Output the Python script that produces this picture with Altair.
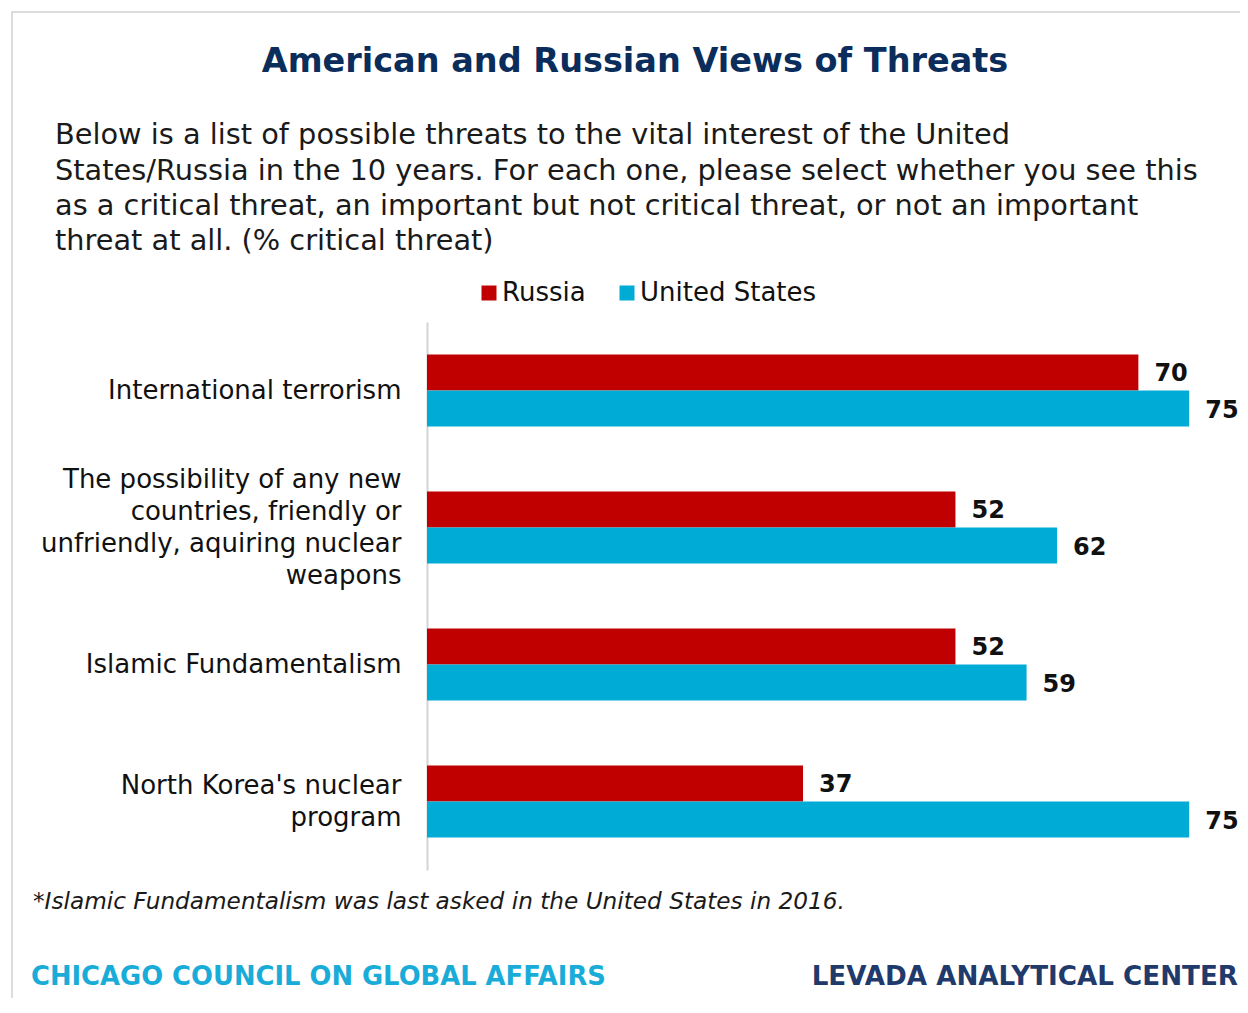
import altair as alt
import pandas as pd

# ---- data ----
categories = [
    "International terrorism",
    "The possibility of any new|countries, friendly or|unfriendly, aquiring nuclear|weapons",
    "Islamic Fundamentalism",
    "North Korea's nuclear|program",
]
russia = [70, 52, 52, 37]
united_states = [75, 62, 59, 75]
series = ["Russia", "United States"]
colors = ["#C00000", "#00ABD6"]

title_text = "American and Russian Views of Threats"
subtitle_lines = [
    "Below is a list of possible threats to the vital interest of the United",
    "States/Russia in the 10 years. For each one, please select whether you see this",
    "as a critical threat, an important but not critical threat, or not an important",
    "threat at all. (% critical threat)",
]
footnote = "*Islamic Fundamentalism was last asked in the United States in 2016."
source_left = "CHICAGO COUNCIL ON GLOBAL AFFAIRS"
source_right = "LEVADA ANALYTICAL CENTER"

rows = []
for c, r, u in zip(categories, russia, united_states):
    rows.append({"category": c, "series": series[0], "value": r})
    rows.append({"category": c, "series": series[1], "value": u})
df = pd.DataFrame(rows)

FONT = "DejaVu Sans"
W, H = 813, 548
LH = 32

label_offset = {
    "condition": [
        {"test": "length(split(datum.value, '|')) == 4", "value": -1.5 * LH},
        {"test": "length(split(datum.value, '|')) == 2", "value": -0.5 * LH},
    ],
    "value": 0,
}

base = alt.Chart(df).encode(
    y=alt.Y(
        "category:N",
        sort=categories,
        scale=alt.Scale(paddingInner=0.474, paddingOuter=0.237),
        axis=alt.Axis(
            title=None,
            ticks=False,
            domainColor="#d4d4d4",
            domainWidth=2,
            labelFont=FONT,
            labelFontSize=26,
            labelColor="#111111",
            labelPadding=26,
            labelLimit=420,
            labelLineHeight=LH,
            labelOffset=label_offset,
            labelExpr="split(datum.label, '|')",
        ),
    ),
    yOffset=alt.YOffset("series:N", sort=series, scale=alt.Scale(paddingInner=0, paddingOuter=0)),
    x=alt.X("value:Q", scale=alt.Scale(domain=[0, 80]), axis=None),
)

bars = base.mark_bar(size=36).encode(
    color=alt.Color(
        "series:N",
        sort=series,
        scale=alt.Scale(domain=series, range=colors),
        legend=alt.Legend(
            title=None,
            orient="none",
            direction="horizontal",
            legendX=49,
            legendY=-42,
            symbolType="square",
            symbolSize=225,
            symbolStrokeWidth=0,
            labelFont=FONT,
            labelFontSize=26,
            labelColor="#111111",
            labelOffset=0,
            labelLimit=300,
            columnPadding=28,
        ),
    )
)

labels = base.mark_text(
    align="left", baseline="middle", dx=16, dy=2, font=FONT, fontSize=24, fontWeight="bold", color="#111111"
).encode(text=alt.Text("value:Q"))

one = pd.DataFrame({"a": [0]})

def txt(text, x, y, size, color, align="left", weight="normal", style="normal"):
    return alt.Chart(one).mark_text(
        align=align, baseline="middle", font=FONT, fontSize=size, color=color,
        fontWeight=weight, fontStyle=style,
    ).encode(x=alt.value(x), y=alt.value(y), text=alt.value(text))

layers = [bars, labels]
layers.append(txt(title_text, 208, -260, 33.5, "#0B2D5B", align="center", weight="bold"))
sub_y = [-187, -151, -116, -81]
for line, yy in zip(subtitle_lines, sub_y):
    layers.append(txt(line, -372, yy, 28.8, "#1a1a1a"))
layers.append(txt(footnote, -394, 580, 23.2, "#1a1a1a", style="italic"))
layers.append(txt(source_left, -396, 655, 25.8, "#1AACD8", weight="bold"))
layers.append(txt(source_right, 811, 655, 26.2, "#1F3A6B", align="right", weight="bold"))

# frame lines (top and left)
layers.append(alt.Chart(one).mark_rule(color="#dcdcdc", strokeWidth=2).encode(
    x=alt.value(-416), x2=alt.value(830), y=alt.value(-310)))
layers.append(alt.Chart(one).mark_rule(color="#dcdcdc", strokeWidth=2).encode(
    x=alt.value(-415), y=alt.value(-311), y2=alt.value(700)))

chart = alt.layer(*layers).properties(
    width=W,
    height=H,
    background="white",
    autosize=alt.AutoSizeParams(type="none"),
    padding={"left": 419, "top": 314, "right": 0, "bottom": 128},
).configure_view(strokeWidth=0)

chart.save("out.html", embed_options={"renderer": "svg", "actions": False})
